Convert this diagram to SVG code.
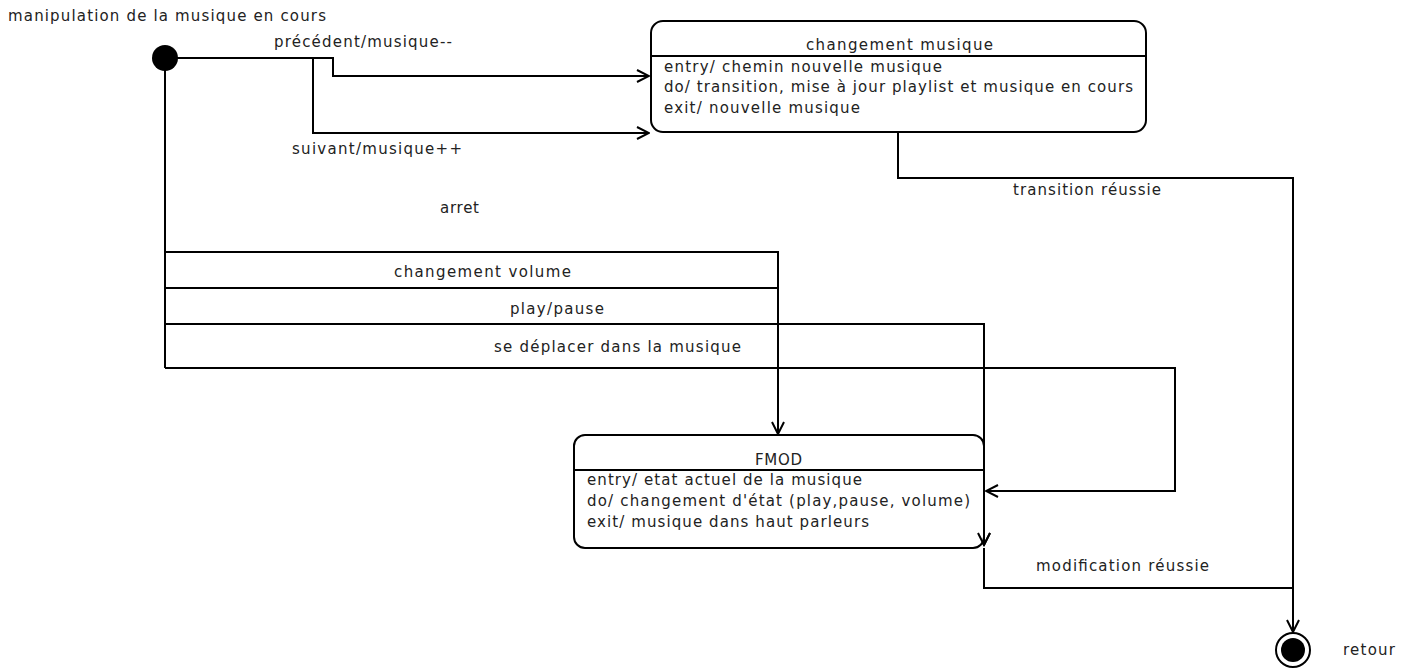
<svg xmlns="http://www.w3.org/2000/svg" width="1413" height="669" viewBox="0 0 1413 669">
  <style>
    text { font-family: "DejaVu Sans", "Noto Sans", sans-serif; font-size: 15px; fill: #222; }
    .line { fill: none; stroke: #000; stroke-width: 2; }
    .box { fill: #fff; stroke: #000; stroke-width: 2; }
  </style>
  <defs>
    <marker id="open" viewBox="0 0 14 14" refX="13" refY="7" markerWidth="14" markerHeight="14" markerUnits="userSpaceOnUse" orient="auto">
      <path d="M1,1 L13,7 L1,13" fill="none" stroke="#000" stroke-width="2"/>
    </marker>
  </defs>

  <rect width="1413" height="669" fill="#fff"/>

  <!-- connectors -->
  <g id="connectors">
    <path class="line" d="M165,58 H333 V76 H649" marker-end="url(#open)"/>
    <path class="line" d="M313,58 V133 H649" marker-end="url(#open)"/>
    <path class="line" d="M165,58 V368"/>
    <path class="line" d="M165,252 H778 V434" marker-end="url(#open)"/>
    <path class="line" d="M165,288 H778"/>
    <path class="line" d="M165,324 H984 V545" marker-end="url(#open)"/>
    <path class="line" d="M165,368 H1175 V491 H986" marker-end="url(#open)"/>
    <path class="line" d="M898,132 V178 H1293 V632" marker-end="url(#open)"/>
    <path class="line" d="M984,548 V588 H1293"/>
  </g>

  <!-- transition labels -->
  <g id="labels">
    <text x="8" y="21" textLength="318" lengthAdjust="spacing">manipulation de la musique en cours</text>
    <text x="274" y="47" textLength="178" lengthAdjust="spacing">précédent/musique--</text>
    <text x="292" y="154" textLength="170" lengthAdjust="spacing">suivant/musique++</text>
    <text x="440" y="213" textLength="39" lengthAdjust="spacing">arret</text>
    <text x="394" y="277" textLength="177" lengthAdjust="spacing">changement volume</text>
    <text x="510" y="314" textLength="94" lengthAdjust="spacing">play/pause</text>
    <text x="494" y="352" textLength="247" lengthAdjust="spacing">se déplacer dans la musique</text>
    <text x="1013" y="195" textLength="148" lengthAdjust="spacing">transition réussie</text>
    <text x="1036" y="571" textLength="173" lengthAdjust="spacing">modification réussie</text>
  </g>

  <!-- initial state -->
  <g id="initial">
    <circle cx="165" cy="58" r="13" fill="#000"/>
  </g>

  <!-- state: changement musique -->
  <g id="changement-musique">
    <rect class="box" x="651" y="21" width="495" height="111" rx="12" ry="12"/>
    <line class="line" x1="651" y1="56" x2="1146" y2="56"/>
    <text x="806" y="50" textLength="187" lengthAdjust="spacing">changement musique</text>
    <text x="664" y="72" textLength="278" lengthAdjust="spacing">entry/ chemin nouvelle musique</text>
    <text x="664" y="92" textLength="469" lengthAdjust="spacing">do/ transition, mise à jour playlist et musique en cours</text>
    <text x="664" y="113" textLength="196" lengthAdjust="spacing">exit/ nouvelle musique</text>
  </g>

  <!-- state: FMOD -->
  <g id="fmod">
    <rect class="box" x="574" y="435" width="410" height="113" rx="11" ry="11"/>
    <line class="line" x1="574" y1="470" x2="984" y2="470"/>
    <text x="755" y="465" textLength="47" lengthAdjust="spacing">FMOD</text>
    <text x="587" y="485" textLength="275" lengthAdjust="spacing">entry/ etat actuel de la musique</text>
    <text x="587" y="506" textLength="383" lengthAdjust="spacing">do/ changement d'état (play,pause, volume)</text>
    <text x="587" y="527" textLength="282" lengthAdjust="spacing">exit/ musique dans haut parleurs</text>
  </g>

  <!-- arrow tip drawn again on top of the FMOD border -->
  <g id="fmod-arrows">
    <path d="M978,533 L984,545 L990,533" fill="none" stroke="#000" stroke-width="2"/>
  </g>

  <!-- final state -->
  <g id="final">
    <circle cx="1293" cy="650" r="17" fill="#fff" stroke="#000" stroke-width="2"/>
    <circle cx="1293" cy="650" r="12" fill="#000"/>
    <text x="1343" y="655" textLength="52" lengthAdjust="spacing">retour</text>
  </g>
</svg>
